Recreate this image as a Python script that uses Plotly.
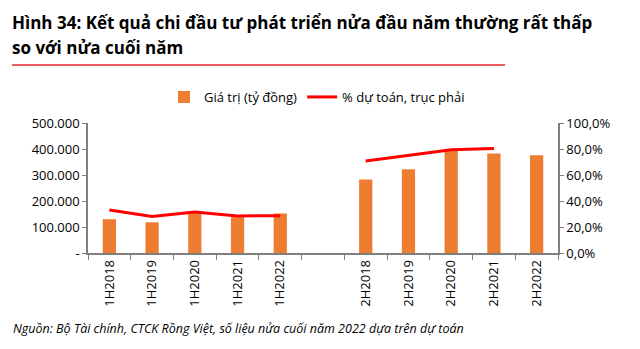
import plotly.graph_objects as go

categories = ["1H2018", "1H2019", "1H2020", "1H2021", "1H2022", " ",
              "2H2018", "2H2019", "2H2020", "2H2021", "2H2022"]
values = [130000, 118000, 155000, 138000, 152000, None,
          283000, 322000, 400000, 383000, 376000]
pct = [33.0, 28.0, 31.5, 28.5, 28.7, None,
       70.8, 75.0, 79.5, 80.3, None]
left_ticks = [0, 100000, 200000, 300000, 400000, 500000]
left_labels = ["-", "100.000", "200.000", "300.000", "400.000", "500.000"]
right_ticks = [0, 20, 40, 60, 80, 100]
right_labels = ["0,0%", "20,0%", "40,0%", "60,0%", "80,0%", "100,0%"]

W, H = 640, 349
L, R, T, B = 88, 82, 123, 96
pw, ph = W - L - R, H - T - B

def px(x):
    return (x - L) / pw

def py(y):
    return (H - B - y) / ph

font = "Open Sans, sans-serif"
axcol = "#7f7f7f"

fig = go.Figure()
fig.add_trace(go.Bar(x=categories, y=values, name="Giá trị (tỷ đồng)",
                     marker=dict(color="#ED7D31", line=dict(width=0)), yaxis="y"))
fig.add_trace(go.Scatter(x=categories, y=pct, name="% dự toán, trục phải",
                         mode="lines", line=dict(color="#FF0000", width=3),
                         connectgaps=False, yaxis="y2"))

fig.update_layout(
    width=W, height=H, margin=dict(l=L, r=R, t=T, b=B),
    paper_bgcolor="white", plot_bgcolor="white",
    bargap=0.69,
    font=dict(family=font, size=13, color="#000000"),
    xaxis=dict(type="category", categoryorder="array", categoryarray=categories,
               showline=True, linecolor=axcol, linewidth=1.5,
               ticks="outside", tickson="boundaries", ticklen=5, tickcolor=axcol,
               tickangle=-90, showgrid=False, tickfont=dict(size=13)),
    yaxis=dict(range=[0, 500000], tickvals=left_ticks, ticktext=left_labels,
               showline=True, linecolor=axcol, linewidth=1.5, ticks="outside",
               ticklen=4, tickcolor=axcol, showgrid=False, zeroline=False,
               tickfont=dict(size=13)),
    yaxis2=dict(range=[0, 100], tickvals=right_ticks, ticktext=right_labels,
                overlaying="y", side="right", showline=True, linecolor=axcol,
                linewidth=1.5, ticks="outside", ticklen=4, tickcolor=axcol,
                showgrid=False, zeroline=False, tickfont=dict(size=13)),
    legend=dict(orientation="h", x=px(164), y=py(97), xanchor="left", yanchor="middle",
                font=dict(size=13), itemwidth=30, bgcolor="rgba(0,0,0,0)"),
    showlegend=True,
)

fig.add_annotation(text="<b>Hình 34: Kết quả chi đầu tư phát triển nửa đầu năm thường rất thấp</b>",
                   xref="paper", yref="paper", x=px(10), y=py(22), xanchor="left",
                   yanchor="middle", showarrow=False, font=dict(size=17, family=font))
fig.add_annotation(text="<b>so với nửa cuối năm</b>",
                   xref="paper", yref="paper", x=px(10), y=py(47), xanchor="left",
                   yanchor="middle", showarrow=False, font=dict(size=17, family=font))
fig.add_shape(type="line", xref="paper", yref="paper", x0=px(12), x1=px(505),
              y0=py(65), y1=py(65), line=dict(color="#E8252B", width=1.5))
fig.add_annotation(text="<i>Nguồn: Bộ Tài chính, CTCK Rồng Việt, số liệu nửa cuối năm 2022 dựa trên dự toán</i>",
                   xref="paper", yref="paper", x=px(11), y=py(328), xanchor="left",
                   yanchor="middle", showarrow=False, font=dict(size=12.5, family=font))

fig.write_html("out.html")
